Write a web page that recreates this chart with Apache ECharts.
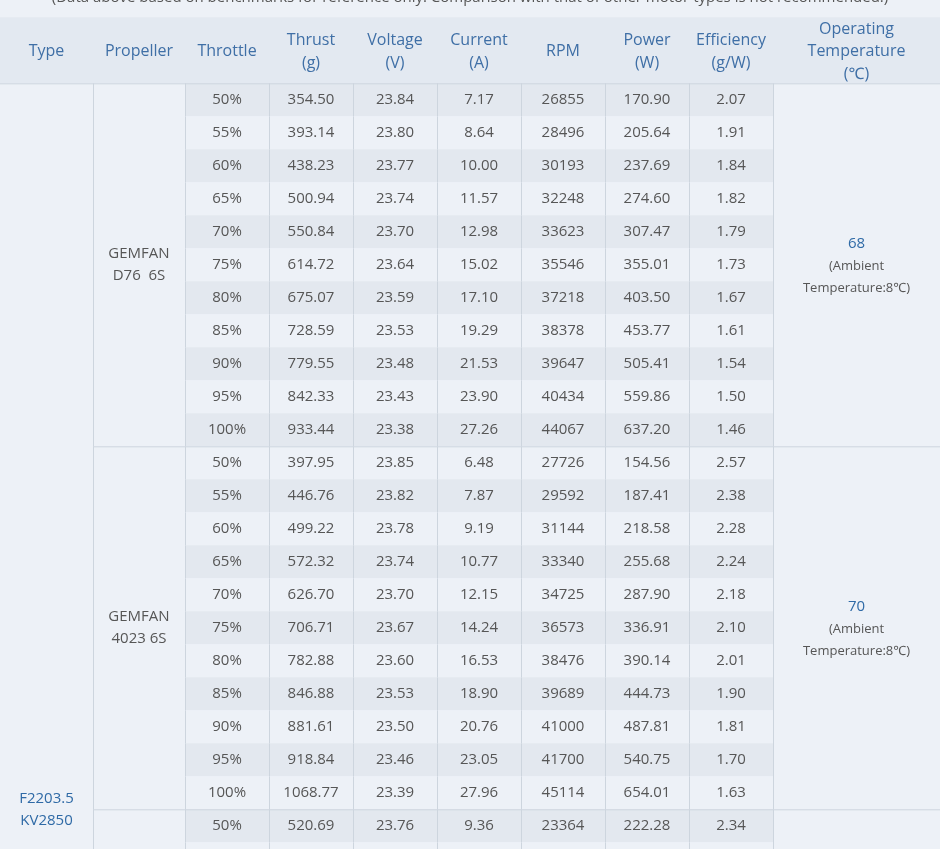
<!DOCTYPE html>
<html>
<head>
<meta charset="utf-8">
<script src="https://cdn.jsdelivr.net/npm/echarts@6/dist/echarts.min.js"></script>
<style>
html,body{margin:0;padding:0;background:#edf1f7;}
#chart{width:940px;height:849px;}
</style>
</head>
<body>
<div id="chart"></div>
<script>
// ---------- data ----------
const note = '(Data above based on benchmarks for reference only. Comparison with that of other motor types is not recommended.)';
const headers = ['Type', 'Propeller', 'Throttle', 'Thrust\n(g)', 'Voltage\n(V)', 'Current\n(A)', 'RPM', 'Power\n(W)', 'Efficiency\n(g/W)', 'Operating\nTemperature\n(℃)'];
const motorType = 'F2203.5\nKV2850';
const propellers = ['GEMFAN\nD76  6S', 'GEMFAN\n4023 6S', '', ''];
const temps = ['68', '70', '', ''];
const ambient = ['(Ambient', 'Temperature:8℃)'];
const throttle = ['50%', '55%', '60%', '65%', '70%', '75%', '80%', '85%', '90%', '95%', '100%'];

const thrustD76 = [354.50, 393.14, 438.23, 500.94, 550.84, 614.72, 675.07, 728.59, 779.55, 842.33, 933.44];
const voltageD76 = [23.84, 23.80, 23.77, 23.74, 23.70, 23.64, 23.59, 23.53, 23.48, 23.43, 23.38];
const currentD76 = [7.17, 8.64, 10.00, 11.57, 12.98, 15.02, 17.10, 19.29, 21.53, 23.90, 27.26];
const rpmD76 = [26855, 28496, 30193, 32248, 33623, 35546, 37218, 38378, 39647, 40434, 44067];
const powerD76 = [170.90, 205.64, 237.69, 274.60, 307.47, 355.01, 403.50, 453.77, 505.41, 559.86, 637.20];
const effD76 = [2.07, 1.91, 1.84, 1.82, 1.79, 1.73, 1.67, 1.61, 1.54, 1.50, 1.46];

const thrust4023 = [397.95, 446.76, 499.22, 572.32, 626.70, 706.71, 782.88, 846.88, 881.61, 918.84, 1068.77];
const voltage4023 = [23.85, 23.82, 23.78, 23.74, 23.70, 23.67, 23.60, 23.53, 23.50, 23.46, 23.39];
const current4023 = [6.48, 7.87, 9.19, 10.77, 12.15, 14.24, 16.53, 18.90, 20.76, 23.05, 27.96];
const rpm4023 = [27726, 29592, 31144, 33340, 34725, 36573, 38476, 39689, 41000, 41700, 45114];
const power4023 = [154.56, 187.41, 218.58, 255.68, 287.90, 336.91, 390.14, 444.73, 487.81, 540.75, 654.01];
const eff4023 = [2.57, 2.38, 2.28, 2.24, 2.18, 2.10, 2.01, 1.90, 1.81, 1.70, 1.63];

const thrust3 = [520.69];
const voltage3 = [23.76];
const current3 = [9.36];
const rpm3 = [23364];
const power3 = [222.28];
const eff3 = [2.34];

// ---------- layout / style ----------
const GROUP_ROWS = 11;
const GROUPS = 4;
const HEAD_SLOTS = 2;
const AXIS_SLOTS = 25;          // slots that fit inside the picture
const TOTAL_SLOTS = HEAD_SLOTS + GROUP_ROWS * GROUPS;
const ROW_H = 33;
const TOP = 17.3;
const C = {
  bg: '#edf1f7', shade: '#e3e8ef', head: '#e3e9f1', line: '#cdd5de',
  headText: '#3f6fa6', text: '#565656', blue: '#2f6aa6'
};
const FONT = '"Open Sans", "Noto Sans", sans-serif';

const groups = [
  {thrust: thrustD76, voltage: voltageD76, current: currentD76, rpm: rpmD76, power: powerD76, eff: effD76},
  {thrust: thrust4023, voltage: voltage4023, current: current4023, rpm: rpm4023, power: power4023, eff: eff4023},
  {thrust: thrust3, voltage: voltage3, current: current3, rpm: rpm3, power: power3, eff: eff3}
];
const visibleRows = 24; // body rows reaching into the picture

const fmt2 = v => (v === undefined ? '' : v.toFixed(2));
const fmt0 = v => (v === undefined ? '' : String(v));

// cells per grid: {c, r0, r1, text, kind}
const cells = [[], [], [], []];
cells[0].push({c: 0, r0: 0, r1: 1, text: headers[0], kind: 'head'});
cells[1].push({c: 0, r0: 0, r1: 1, text: headers[1], kind: 'head'});
for (let i = 0; i < 7; i++) cells[2].push({c: i, r0: 0, r1: 1, text: headers[2 + i], kind: 'head'});
cells[3].push({c: 0, r0: 0, r1: 1, text: headers[9], kind: 'head'});
cells[0].push({c: 0, r0: HEAD_SLOTS, r1: TOTAL_SLOTS - 1, text: motorType, kind: 'type', top: true});
for (let g = 0; g < GROUPS; g++) {
  const r0 = HEAD_SLOTS + g * GROUP_ROWS, r1 = r0 + GROUP_ROWS - 1;
  cells[1].push({c: 0, r0, r1, text: propellers[g], kind: 'prop', top: true, left: true});
  cells[3].push({c: 0, r0, r1, text: temps[g], kind: 'temp', top: true, left: true});
}
for (let k = 0; k < visibleRows; k++) {
  const g = Math.floor(k / GROUP_ROWS), i = k % GROUP_ROWS;
  const d = groups[g] || {};
  const has = d.thrust && i < d.thrust.length;
  const vals = has ? [throttle[i], fmt2(d.thrust[i]), fmt2(d.voltage[i]), fmt2(d.current[i]), fmt0(d.rpm[i]), fmt2(d.power[i]), fmt2(d.eff[i])]
                   : ['', '', '', '', '', '', ''];
  const r = HEAD_SLOTS + k;
  for (let c = 0; c < 7; c++) {
    cells[2].push({c, r0: r, r1: r, text: vals[c], kind: 'data', shade: k % 2 === 0, top: i === 0, left: true});
  }
}

function makeRender(gi) {
  return function (params, api) {
    const cell = cells[gi][params.dataIndex];
    const p = api.coord([cell.c, 0]);
    const s = api.size([1, 1]);
    const x = p[0] - s[0] / 2, y = p[1] - s[1] / 2 + cell.r0 * s[1];
    const w = s[0], h = s[1] * (cell.r1 - cell.r0 + 1);
    const children = [];
    let fill = C.bg;
    if (cell.kind === 'head') fill = C.head;
    else if (cell.shade) fill = C.shade;
    children.push({type: 'rect', shape: {x, y, width: w, height: h}, style: {fill}});
    if (cell.kind !== 'head') {
      if (cell.left) children.push({type: 'line', shape: {x1: x + 0.5, y1: y, x2: x + 0.5, y2: y + h}, style: {stroke: C.line, lineWidth: 1}});
      if (cell.top) children.push({type: 'line', shape: {x1: x, y1: y + 0.5, x2: x + w, y2: y + 0.5}, style: {stroke: C.line, lineWidth: 1}});
    }
    const cx = x + w / 2, cy = y + h / 2;
    if (cell.kind === 'temp' && cell.text) {
      children.push({type: 'text', style: {
        x: cx, y: cy + 1, align: 'center', verticalAlign: 'middle',
        text: '{t|' + cell.text + '}\n{a|' + ambient[0] + '}\n{a|' + ambient[1] + '}',
        rich: {
          t: {fontSize: 15, fontFamily: FONT, fill: C.blue, lineHeight: 22, align: 'center'},
          a: {fontSize: 13, fontFamily: FONT, fill: C.text, lineHeight: 22, align: 'center'}
        }
      }});
    } else if (cell.text) {
      const isHead = cell.kind === 'head';
      const color = isHead ? C.headText : (cell.kind === 'type' ? C.blue : C.text);
      children.push({type: 'text', style: {
        x: cx, y: cy + (isHead ? 1.5 : 0), align: 'center', verticalAlign: 'middle', text: cell.text,
        fontSize: isHead ? 16 : 15, fontFamily: FONT, fill: color, lineHeight: isHead ? 22.5 : 22
      }});
    }
    return {type: 'group', children};
  };
}

const rowCats = Array.from({length: AXIS_SLOTS}, (_, i) => 'r' + i);
const gridDefs = [
  {left: 0, width: 93, cols: [headers[0]]},
  {left: 93, width: 92, cols: [headers[1]]},
  {left: 185, width: 588, cols: headers.slice(2, 9)},
  {left: 773, width: 167, cols: [headers[9]]}
];

const option = {
  backgroundColor: C.bg,
  animation: false,
  title: {
    text: note, left: 'center', top: -15,
    textStyle: {fontSize: 15, fontWeight: 'normal', color: C.text, fontFamily: FONT}
  },
  grid: gridDefs.map(g => ({left: g.left, width: g.width, top: TOP, height: ROW_H * AXIS_SLOTS, containLabel: false})),
  xAxis: gridDefs.map((g, i) => ({type: 'category', gridIndex: i, data: g.cols, show: false})),
  yAxis: gridDefs.map((g, i) => ({type: 'category', gridIndex: i, data: rowCats, inverse: true, show: false})),
  series: gridDefs.map((g, i) => ({
    type: 'custom', xAxisIndex: i, yAxisIndex: i, clip: false,
    renderItem: makeRender(i),
    data: cells[i].map(c => [c.c, c.r0, c.r1])
  }))
};

const chart = echarts.init(document.getElementById('chart'), null, {renderer: 'canvas'});
chart.setOption(option);
</script>
</body>
</html>
